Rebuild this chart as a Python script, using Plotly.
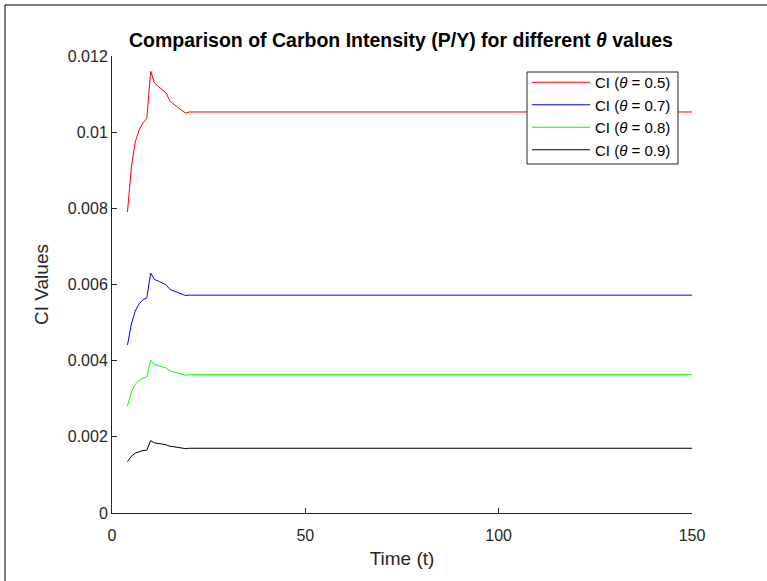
import plotly.graph_objects as go

# Time steps (flat from t=20 onward to t=150)
t = [4, 5, 6, 7, 8, 9, 10, 11, 12, 13, 14, 15, 16, 17, 18, 19, 20, 150]

ci_05 = [0.00790, 0.00907, 0.00974, 0.01005, 0.01024, 0.01036, 0.01160, 0.01129,
         0.01120, 0.01111, 0.01103, 0.01081, 0.01073, 0.01065, 0.01058, 0.01050,
         0.01053, 0.01053]
ci_07 = [0.00441, 0.00496, 0.00530, 0.00549, 0.00560, 0.00565, 0.00630, 0.00613,
         0.00609, 0.00603, 0.00599, 0.00587, 0.00583, 0.00578, 0.00575, 0.00571,
         0.00572, 0.00572]
ci_08 = [0.00281, 0.00317, 0.00338, 0.00348, 0.00354, 0.00358, 0.00401, 0.00390,
         0.00387, 0.00384, 0.00381, 0.00373, 0.00370, 0.00367, 0.00365, 0.00362,
         0.00363, 0.00363]
ci_09 = [0.00135, 0.00149, 0.00157, 0.00161, 0.00164, 0.00165, 0.00190, 0.00184,
         0.00183, 0.00181, 0.00179, 0.00175, 0.00174, 0.00172, 0.00171, 0.00169,
         0.00170, 0.00170]

series_names = ["CI (<i>θ</i> = 0.5)", "CI (<i>θ</i> = 0.7)",
                "CI (<i>θ</i> = 0.8)", "CI (<i>θ</i> = 0.9)"]
series_values = [ci_05, ci_07, ci_08, ci_09]
colors = ["#FF0000", "#0000FF", "#00FF00", "#000000"]

x_ticks = [0, 50, 100, 150]
y_ticks = [0, 0.002, 0.004, 0.006, 0.008, 0.01, 0.012]
y_tick_labels = ["0", "0.002", "0.004", "0.006", "0.008", "0.01", "0.012"]

FONT = "Liberation Sans, Arial, Helvetica, sans-serif"
AX = "#262626"

fig = go.Figure()
for name, vals, c in zip(series_names, series_values, colors):
    fig.add_trace(go.Scatter(x=t, y=vals, mode="lines", name=name,
                             line=dict(color=c, width=1)))

W, H = 767, 581
L, R, T, B = 112, 75, 56, 68
pw, ph = W - L - R, H - T - B

def px(xp):
    return (xp - L) / pw

def py(yp):
    return (H - B - yp) / ph

fig.update_layout(
    width=W, height=H,
    margin=dict(l=L, r=R, t=T, b=B, pad=0),
    paper_bgcolor="white", plot_bgcolor="white",
    font=dict(family=FONT, color=AX, size=16),
    title=dict(text="<b>Comparison of Carbon Intensity (P/Y) for different <i>θ</i> values</b>",
               x=px(401), xref="paper", xanchor="center",
               y=1 - 40 / H, yanchor="middle",
               font=dict(size=19.5, color="black", family=FONT)),
    xaxis=dict(range=[0, 150], tickvals=x_ticks, ticks="inside", ticklen=5,
               tickcolor=AX, showline=True, linecolor=AX, linewidth=1,
               showgrid=False, zeroline=False, mirror=False,
               ticklabelstandoff=8,
               title=dict(text="Time (t)", font=dict(size=19), standoff=8),
               tickfont=dict(size=16)),
    yaxis=dict(range=[0, 0.012], tickvals=y_ticks, ticktext=y_tick_labels,
               ticks="inside", ticklen=5,
               tickcolor=AX, showline=True, linecolor=AX, linewidth=1,
               showgrid=False, zeroline=False, mirror=False,
               title=dict(text="CI Values", font=dict(size=19), standoff=14),
               tickfont=dict(size=16)),
    legend=dict(x=px(527), y=py(66), xanchor="left", yanchor="top",
                bgcolor="rgba(0,0,0,0)", borderwidth=0,
                font=dict(size=15, color="black"), itemwidth=58,
                tracegroupgap=0),
    showlegend=True,
)

# legend box drawn as a shape for exact size
fig.add_shape(type="rect", xref="paper", yref="paper", layer="above",
              x0=px(527), x1=px(678), y0=py(164), y1=py(72),
              fillcolor="white", line=dict(color=AX, width=1))

# outer frame lines (left and top) like the reference image
fig.add_shape(type="line", xref="paper", yref="paper",
              x0=px(5), x1=px(5), y0=py(5), y1=py(H + 5),
              line=dict(color="black", width=1))
fig.add_shape(type="line", xref="paper", yref="paper",
              x0=px(5), x1=px(W + 5), y0=py(5), y1=py(5),
              line=dict(color="black", width=1))

fig.write_html("out.html", config={"displayModeBar": False},
               post_script="document.body.style.margin='0';")
